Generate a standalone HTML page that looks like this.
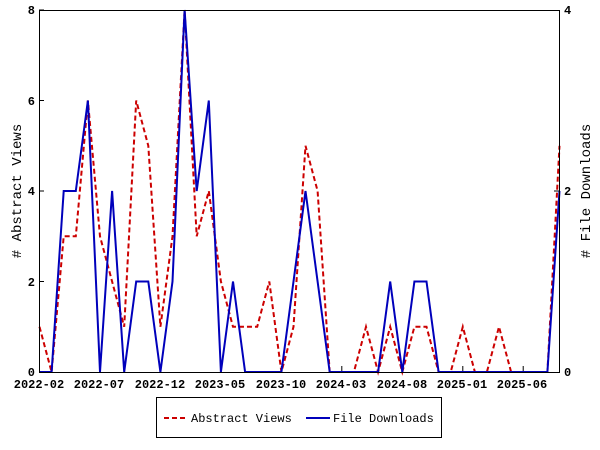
<!DOCTYPE html>
<html><head><style>body{margin:0;background:#fff}svg{display:block}</style></head><body>
<svg width="600" height="450" xmlns="http://www.w3.org/2000/svg" font-family="Liberation Mono, DejaVu Sans Mono, monospace">
<rect width="600" height="450" fill="#fff"/>
<g stroke="#000">
<line x1="39" x2="44" y1="372" y2="372"/><line x1="39" x2="44" y1="281.5" y2="281.5"/><line x1="39" x2="44" y1="191" y2="191"/><line x1="39" x2="44" y1="100.5" y2="100.5"/><line x1="39" x2="44" y1="10" y2="10"/>
<line x1="554" x2="560" y1="191" y2="191"/>
<line x1="39.5" x2="39.5" y1="366" y2="372"/><line x1="99.9" x2="99.9" y1="366" y2="372"/><line x1="160.4" x2="160.4" y1="366" y2="372"/><line x1="220.9" x2="220.9" y1="366" y2="372"/><line x1="281.4" x2="281.4" y1="366" y2="372"/><line x1="341.8" x2="341.8" y1="366" y2="372"/><line x1="402.3" x2="402.3" y1="366" y2="372"/><line x1="462.8" x2="462.8" y1="366" y2="372"/><line x1="523.2" x2="523.2" y1="366" y2="372"/>
</g>
<polyline fill="none" stroke="#cc0000" stroke-width="2" stroke-dasharray="5,3" points="39.5,326.8 51.6,372 63.7,236.3 75.8,236.3 87.9,100.5 100,236.3 112.1,281.5 124.2,326.8 136.2,100.5 148.3,145.8 160.4,326.8 172.5,236.3 184.6,10 196.7,236.3 208.8,191 220.9,281.5 233,326.8 245.1,326.8 257.2,326.8 269.3,281.5 281.4,372 293.5,326.8 305.5,145.8 317.6,191 329.7,372 341.8,372 353.9,372 366,326.8 378.1,372 390.2,326.8 402.3,372 414.4,326.8 426.5,326.8 438.6,372 450.7,372 462.8,326.8 474.9,372 486.9,372 499,326.8 511.1,372 523.2,372 535.3,372 547.4,372 559.5,145.8"/>
<polyline fill="none" stroke="#0000bb" stroke-width="2" points="39.5,372 51.6,372 63.7,191 75.8,191 87.9,100.5 100,372 112.1,191 124.2,372 136.2,281.5 148.3,281.5 160.4,372 172.5,281.5 184.6,10 196.7,191 208.8,100.5 220.9,372 233,281.5 245.1,372 257.2,372 269.3,372 281.4,372 293.5,281.5 305.5,191 317.6,281.5 329.7,372 341.8,372 353.9,372 366,372 378.1,372 390.2,281.5 402.3,372 414.4,281.5 426.5,281.5 438.6,372 450.7,372 462.8,372 474.9,372 486.9,372 499,372 511.1,372 523.2,372 535.3,372 547.4,372 559.5,191"/>
<rect x="39.5" y="10.5" width="520" height="362" fill="none" stroke="#000" stroke-width="1"/>
<g font-size="12" font-weight="bold" fill="#000">
<text x="35" y="376" text-anchor="end">0</text>
<text x="35" y="286" text-anchor="end">2</text>
<text x="35" y="195" text-anchor="end">4</text>
<text x="35" y="105" text-anchor="end">6</text>
<text x="35" y="14" text-anchor="end">8</text>
<text x="564" y="376">0</text>
<text x="564" y="195">2</text>
<text x="564" y="14">4</text>
<text x="39" y="388" text-anchor="middle">2022-02</text>
<text x="99" y="388" text-anchor="middle">2022-07</text>
<text x="160" y="388" text-anchor="middle">2022-12</text>
<text x="220" y="388" text-anchor="middle">2023-05</text>
<text x="281" y="388" text-anchor="middle">2023-10</text>
<text x="341" y="388" text-anchor="middle">2024-03</text>
<text x="402" y="388" text-anchor="middle">2024-08</text>
<text x="462" y="388" text-anchor="middle">2025-01</text>
<text x="522" y="388" text-anchor="middle">2025-06</text>
</g>
<text transform="translate(21,191) rotate(-90)" font-size="14" text-anchor="middle"># Abstract Views</text>
<text transform="translate(590,191) rotate(-90)" font-size="14" text-anchor="middle"># File Downloads</text>
<rect x="156.5" y="397.5" width="285" height="40" fill="#fff" stroke="#000"/>
<line x1="164" y1="418" x2="188" y2="418" stroke="#cc0000" stroke-width="2" stroke-dasharray="5,3"/>
<text x="191" y="422" font-size="12">Abstract Views</text>
<line x1="306" y1="418" x2="330" y2="418" stroke="#0000bb" stroke-width="2"/>
<text x="333" y="422" font-size="12">File Downloads</text>
</svg>
</body></html>
